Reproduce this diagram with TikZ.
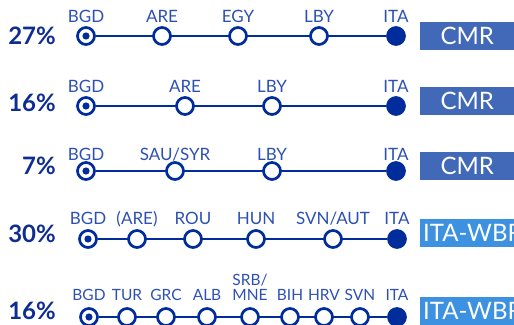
\documentclass[tikz,border=0pt]{standalone}
\usepackage{fontspec}
\setmainfont{Lato}
\usetikzlibrary{backgrounds}
\definecolor{linedark}{RGB}{0,45,155}
\definecolor{codeblue}{RGB}{45,80,180}
\definecolor{shareblue}{RGB}{15,45,145}
\definecolor{cmrblue}{RGB}{66,104,184}
\definecolor{wbrblue}{RGB}{60,145,225}

\begin{document}
\begin{tikzpicture}[
  x=1pt, y=-1pt,
  stop/.style={circle, draw=linedark, line width=2.7pt, fill=white, minimum size=17pt, inner sep=0pt},
  origin/.style={stop, path picture={\fill[linedark] (path picture bounding box.center) circle (3.6pt);}},
  terminus/.style={stop, fill=linedark},
  code/.style={font=\fontsize{17}{16}\selectfont, text=codeblue, anchor=base, inner sep=0pt, align=center},
  tightcode/.style={code, font=\fontsize{15.5}{15}\selectfont},
  share/.style={font=\fontsize{24}{24}\selectfont\bfseries, text=shareblue, anchor=east, inner sep=0pt},
  route/.style={anchor=west, minimum width=94pt, minimum height=28pt, inner sep=3pt, text=white, font=\fontsize{24}{24}\selectfont},
  track/.style={draw=linedark, line width=2pt}]
  \useasboundingbox (0,0) rectangle (514,324);
  \clip (0,0) rectangle (514,324);
  % 27%
  \node[share] (pa) at (56,36) {27\%};
  \foreach \x/\c/\s [count=\i] in {86/BGD/origin,162/ARE/stop,238/EGY/stop,319/LBY/stop,396/ITA/terminus} {
    \node[\s] (a\i) at (\x,36) {};
    \node[code] (la\i) at (\x,22) {\c};
  }
  \node[route, fill=cmrblue] (ba) at (420,36) {CMR};
  % 16%
  \node[share] (pb) at (56,103) {16\%};
  \foreach \x/\c/\s [count=\i] in {86/BGD/origin,185/ARE/stop,272/LBY/stop,396/ITA/terminus} {
    \node[\s] (b\i) at (\x,106) {};
    \node[code] (lb\i) at (\x,92) {\c};
  }
  \node[route, fill=cmrblue] (bb) at (420,101) {CMR};
  % 7%
  \node[share] (pc) at (56,166) {7\%};
  \foreach \x/\c/\s [count=\i] in {86/BGD/origin,175/{SAU/SYR}/stop,272/LBY/stop,396/ITA/terminus} {
    \node[\s] (c\i) at (\x,171) {};
    \node[code] (lc\i) at (\x,160) {\c};
  }
  \node[route, fill=cmrblue] (bc) at (420,166) {CMR};
  % 30%
  \node[share] (pd) at (56,234) {30\%};
  \foreach \x/\c/\s [count=\i] in {88/BGD/origin,137/(ARE)/stop,193/ROU/stop,256/HUN/stop,333/{SVN/AUT}/stop,397/ITA/terminus} {
    \node[\s] (d\i) at (\x,239) {};
    \node[code] (ld\i) at (\x,224) {\c};
  }
  \node[route, fill=wbrblue] (bd) at (420,233) {ITA-WBR};
  % 16%
  \node[share] (pe) at (56,311) {16\%};
  \foreach \x/\c/\s [count=\i] in {89/BGD/origin,127/TUR/stop,166/GRC/stop,207/ALB/stop,250/{SRB/\\MNE}/stop,290/BIH/stop,324/HRV/stop,360/SVN/stop,397/ITA/terminus} {
    \node[\s] (e\i) at (\x,317) {};
    \node[tightcode] (le\i) at (\x,300) {\c};
  }
  \node[route, fill=wbrblue] (be) at (420,311) {ITA-WBR};
  \begin{scope}[on background layer]
    \draw[track] (a1) -- (a5);
    \draw[track] (b1) -- (b4);
    \draw[track] (c1) -- (c4);
    \draw[track] (d1) -- (d6);
    \draw[track] (e1) -- (e9);
  \end{scope}
\end{tikzpicture}
\end{document}
